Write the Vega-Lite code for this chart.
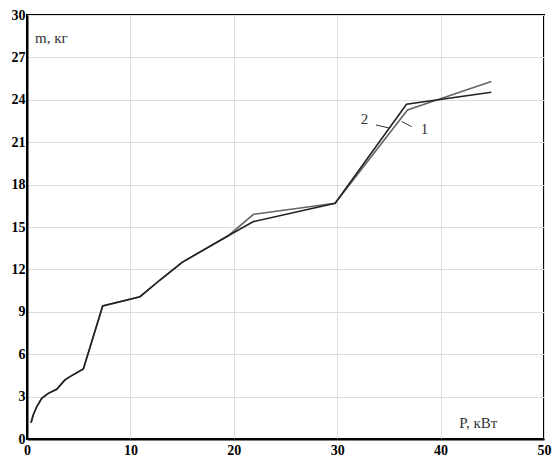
{
  "$schema": "https://vega.github.io/schema/vega-lite/v6.json",
  "autosize": {"type": "none"},
  "width": 517,
  "height": 424,
  "padding": {"left": 27, "top": 15, "right": 9, "bottom": 18},
  "background": "white",
  "config": {
    "view": {"stroke": "black", "strokeWidth": 2},
    "font": "Liberation Serif"
  },
  "datasets": {
    "curves": [
      {"P": 0.39, "m": 1.15, "s": "1"}, {"P": 0.6, "m": 1.7, "s": "1"}, {"P": 0.94, "m": 2.28, "s": "1"},
      {"P": 1.42, "m": 2.88, "s": "1"}, {"P": 2.06, "m": 3.23, "s": "1"}, {"P": 2.87, "m": 3.52, "s": "1"},
      {"P": 3.67, "m": 4.18, "s": "1"}, {"P": 4.16, "m": 4.41, "s": "1"}, {"P": 5.45, "m": 4.95, "s": "1"},
      {"P": 7.32, "m": 9.41, "s": "1"}, {"P": 10.93, "m": 10.07, "s": "1"}, {"P": 12.86, "m": 11.25, "s": "1"},
      {"P": 15, "m": 12.5, "s": "1"}, {"P": 19.5, "m": 14.4, "s": "1"}, {"P": 21.9, "m": 15.9, "s": "1"},
      {"P": 29.8, "m": 16.68, "s": "1"}, {"P": 36.8, "m": 23.28, "s": "1"}, {"P": 44.9, "m": 25.29, "s": "1"},
      {"P": 0.39, "m": 1.15, "s": "2"}, {"P": 0.6, "m": 1.7, "s": "2"}, {"P": 0.94, "m": 2.28, "s": "2"},
      {"P": 1.42, "m": 2.88, "s": "2"}, {"P": 2.06, "m": 3.23, "s": "2"}, {"P": 2.87, "m": 3.52, "s": "2"},
      {"P": 3.67, "m": 4.18, "s": "2"}, {"P": 4.16, "m": 4.41, "s": "2"}, {"P": 5.45, "m": 4.95, "s": "2"},
      {"P": 7.32, "m": 9.41, "s": "2"}, {"P": 10.93, "m": 10.07, "s": "2"}, {"P": 12.86, "m": 11.25, "s": "2"},
      {"P": 15, "m": 12.5, "s": "2"}, {"P": 19.5, "m": 14.4, "s": "2"}, {"P": 21.9, "m": 15.38, "s": "2"},
      {"P": 29.8, "m": 16.68, "s": "2"}, {"P": 36.7, "m": 23.68, "s": "2"}, {"P": 44.9, "m": 24.54, "s": "2"}
    ],
    "labels": [
      {"P": 0.77, "m": 28.38, "t": "m, кг"},
      {"P": 41.8, "m": 1.13, "t": "P, кВт"},
      {"P": 32.27, "m": 22.65, "t": "2"},
      {"P": 38.07, "m": 21.94, "t": "1"}
    ],
    "leaders": [
      {"P": 33.75, "m": 22.22, "P2": 35.1, "m2": 21.99},
      {"P": 36.24, "m": 22.46, "P2": 37.2, "m2": 22.1}
    ]
  },
  "layer": [
    {
      "data": {"name": "curves"},
      "mark": {"type": "line", "strokeWidth": 1.6},
      "encoding": {
        "x": {
          "field": "P", "type": "quantitative",
          "scale": {"domain": [0, 50], "nice": false},
          "axis": {
            "values": [0, 10, 20, 30, 40, 50], "title": null, "tickSize": 0,
            "labelPadding": 4, "labelFont": "Liberation Serif", "labelFontWeight": "bold",
            "labelFontSize": 14, "labelColor": "black", "domainColor": "black", "domainWidth": 2,
            "gridColor": "#dddddd", "gridWidth": 1, "labelFlush": false
          }
        },
        "y": {
          "field": "m", "type": "quantitative",
          "scale": {"domain": [0, 30], "nice": false},
          "axis": {
            "values": [0, 3, 6, 9, 12, 15, 18, 21, 24, 27, 30], "title": null, "tickSize": 0,
            "labelPadding": 2, "labelFont": "Liberation Serif", "labelFontWeight": "bold",
            "labelFontSize": 14, "labelColor": "black", "domainColor": "black", "domainWidth": 2,
            "gridColor": "#dddddd", "gridWidth": 1, "labelFlush": false
          }
        },
        "detail": {"field": "s"},
        "color": {
          "field": "s", "type": "nominal",
          "scale": {"domain": ["1", "2"], "range": ["#666666", "#222222"]},
          "legend": null
        }
      }
    },
    {
      "data": {"name": "leaders"},
      "mark": {"type": "rule", "color": "#333333", "strokeWidth": 1},
      "encoding": {
        "x": {"field": "P", "type": "quantitative"},
        "y": {"field": "m", "type": "quantitative"},
        "x2": {"field": "P2"},
        "y2": {"field": "m2"}
      }
    },
    {
      "data": {"name": "labels"},
      "mark": {"type": "text", "align": "left", "baseline": "middle", "font": "Liberation Serif", "fontSize": 15, "color": "#333333"},
      "encoding": {
        "x": {"field": "P", "type": "quantitative"},
        "y": {"field": "m", "type": "quantitative"},
        "text": {"field": "t"}
      }
    }
  ]
}
